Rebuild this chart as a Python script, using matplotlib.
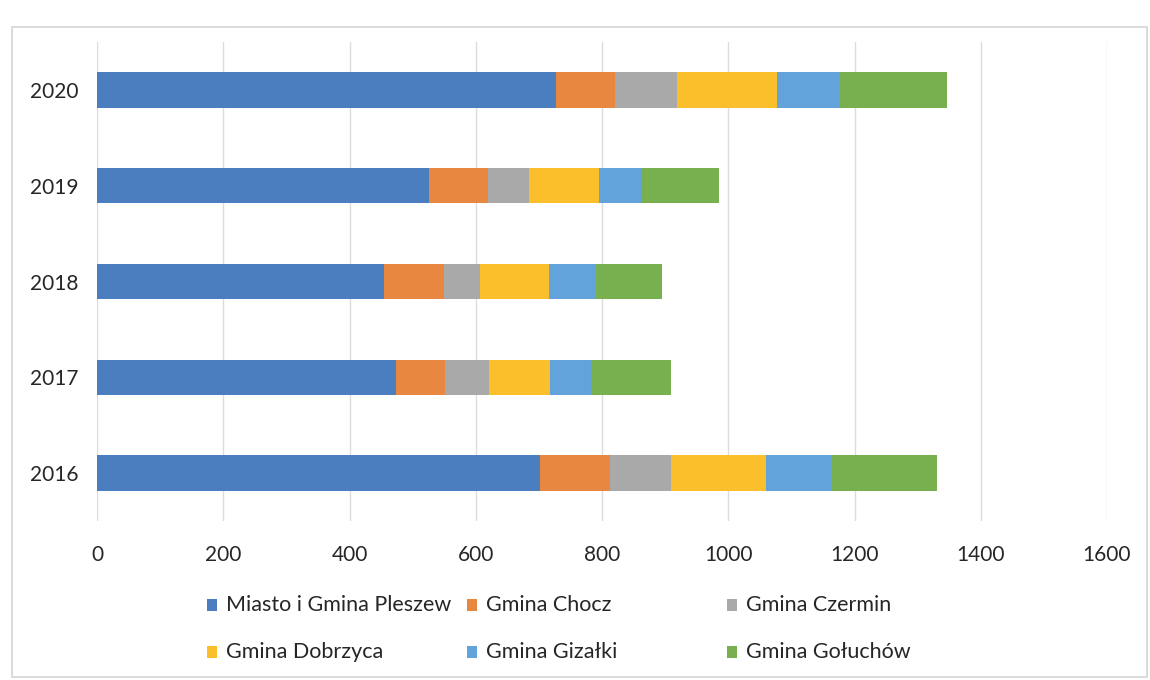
import matplotlib.pyplot as plt
from matplotlib.patches import Rectangle

years = ['2016', '2017', '2018', '2019', '2020']
series_names = ['Miasto i Gmina Pleszew', 'Gmina Chocz', 'Gmina Czermin',
                'Gmina Dobrzyca', 'Gmina Gizałki', 'Gmina Gołuchów']
pleszew = [702, 474, 454, 526, 727]
chocz = [111, 78, 95, 93, 94]
czermin = [96, 69, 58, 66, 98]
dobrzyca = [151, 97, 109, 110, 158]
gizalki = [104, 65, 75, 67, 100]
goluchow = [167, 127, 104, 123, 170]
x_ticks = [0, 200, 400, 600, 800, 1000, 1200, 1400, 1600]

values = [pleszew, chocz, czermin, dobrzyca, gizalki, goluchow]
colors = ['#4a7ebf', '#e8873f', '#a9a9a9', '#fbbf2c', '#62a3dc', '#78b04f']

plt.rcParams['font.family'] = ['Lato', 'DejaVu Sans']
W, H = 1150, 680
fig = plt.figure(figsize=(W / 100, H / 100), dpi=100)
ax = fig.add_axes([97 / W, 1 - 521 / H, (1107 - 97) / W, (521 - 42) / H])

ypos = range(len(years))
left = [0] * len(years)
for name, vals, c in zip(series_names, values, colors):
    ax.barh(ypos, vals, left=left, height=0.37, color=c, label=name, zorder=3)
    left = [a + b for a, b in zip(left, vals)]

ax.set_xlim(0, 1600)
ax.set_ylim(-0.5, len(years) - 0.5)
ax.set_xticks(x_ticks)
ax.set_xticklabels([str(t) for t in x_ticks], fontsize=15, color='#262626')
ax.set_yticks(list(ypos))
ax.set_yticklabels(years, fontsize=15, color='#262626')
ax.tick_params(axis='both', length=0)
ax.tick_params(axis='y', pad=13.5)
ax.tick_params(axis='x', pad=17)
ax.grid(axis='x', color='#dcdcdc', linewidth=1, zorder=0)
for s in ax.spines.values():
    s.set_visible(False)

# legend drawn by hand to keep Excel's fixed column layout
col_x = [212, 472, 732]
row_y = [605, 652]
for i, (name, c) in enumerate(zip(series_names, colors)):
    x = col_x[i % 3]
    y = row_y[i // 3]
    fig.add_artist(Rectangle(((x - 5) / W, 1 - (y + 6) / H), 10 / W, 12 / H,
                             transform=fig.transFigure, color=c, lw=0))
    fig.text((x + 14) / W, 1 - y / H, name, fontsize=15.5, color='#262626',
             va='center', ha='left')

# chart border
fig.add_artist(Rectangle((12 / W, 1 - 677 / H), (1147 - 12) / W, (677 - 27) / H,
                         transform=fig.transFigure, fill=False,
                         edgecolor='#d4d4d4', lw=1.2))

fig.savefig('out.png', dpi=100)
